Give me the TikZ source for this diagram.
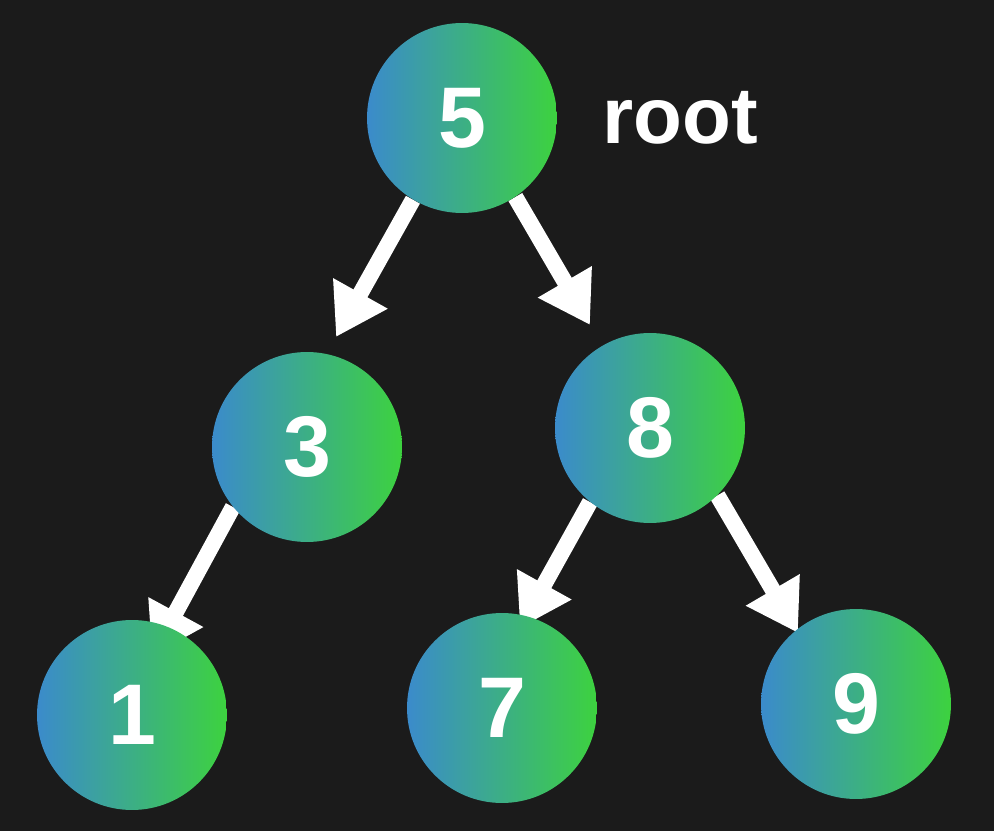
\documentclass[tikz,border=0pt]{standalone}
\usepackage{fontspec}
\setmainfont{Liberation Sans}
\usetikzlibrary{arrows.meta}
\definecolor{bgdark}{HTML}{1B1B1B}
\definecolor{nodeblue}{HTML}{3B8BCB}
\definecolor{nodegreen}{HTML}{3DD23F}
\pgfdeclarelayer{bg}
\pgfdeclarelayer{edges}
\pgfsetlayers{bg,edges,main}
\begin{document}
\begin{tikzpicture}[x=0.02cm,y=-0.02cm]
	\tikzstyle{num} = [circle,minimum size=3.8cm,inner sep=0pt,left color=nodeblue,right color=nodegreen,
	text=white,font=\fontsize{49}{49}\selectfont\bfseries]
	\tikzstyle{lbl} = [inner sep=0pt,text=white,font=\fontsize{45.5}{46}\selectfont\bfseries]
	\tikzstyle{arr} = [draw=white,line width=0.32cm,-{Triangle[length=1cm,width=1.18cm]}]
	\begin{pgfonlayer}{bg}
	\fill[bgdark] (0,0) rectangle (994,831);
	\end{pgfonlayer}
	\node (n5) [num] at (462,118) {5};
	\node (root) [lbl, right of=n5, node distance=4.36cm] {root};
	\node (n3) [num] at (307,447) {3};
	\node (n8) [num] at (650,428) {8};
	\node (n1) [num] at (132,715) {1};
	\node (n7) [num] at (502,708) {7};
	\node (n9) [num] at (856,704) {9};
	% arrow tips
	\coordinate (t3) at (336,337);
	\coordinate (t8) at (590,325);
	\coordinate (t1) at (152,656);
	\coordinate (t7) at (520,628);
	\coordinate (t9) at (798,633);
	\begin{pgfonlayer}{edges}
	\draw[arr] (n5.239) -- (t3);
	\draw[arr] (n5.304) -- (t8);
	\draw[arr] (n3.219) -- (t1);
	\draw[arr] (n8.231) -- (t7);
	\draw[arr] (n8.315) -- (t9);
	\end{pgfonlayer}
\end{tikzpicture}
\end{document}
